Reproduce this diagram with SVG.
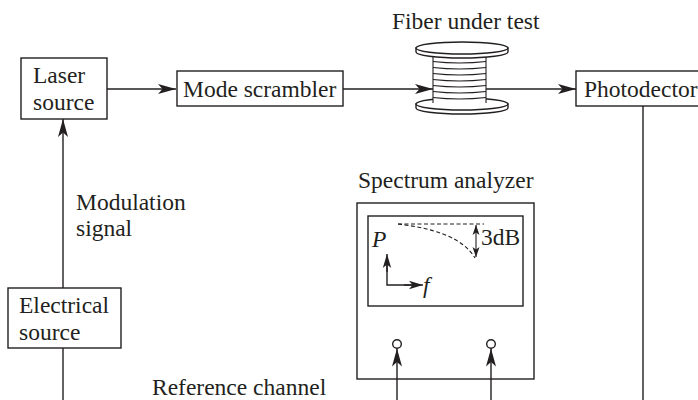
<svg xmlns="http://www.w3.org/2000/svg" width="698" height="400" viewBox="0 0 698 400">
  <style>
    .box { fill: #ffffff; stroke: #231f20; stroke-width: 1.4; }
    .ln { fill: none; stroke: #231f20; stroke-width: 1.4; }
    .thin { fill: none; stroke: #231f20; stroke-width: 1.1; }
    .dash { fill: none; stroke: #231f20; stroke-width: 1.1; stroke-dasharray: 4 2.5; }
    .t { font-family: "Liberation Serif", "Times New Roman", serif; font-size: 23.5px; fill: #231f20; }
    .i { font-style: italic; }
  </style>
  <defs>
    <marker id="ah" viewBox="-19 -6 20 12" refX="0" refY="0" markerWidth="20" markerHeight="12" markerUnits="userSpaceOnUse" orient="auto">
      <path d="M0,0 L-18,-5 L-13.5,0 L-18,5 Z" fill="#231f20"/>
    </marker>
    <marker id="ahm" viewBox="-15 -5 16 10" refX="0" refY="0" markerWidth="16" markerHeight="10" markerUnits="userSpaceOnUse" orient="auto">
      <path d="M0,0 L-14,-4.2 L-10.5,0 L-14,4.2 Z" fill="#231f20"/>
    </marker>
    <marker id="ahs" viewBox="-11 -4 12 8" refX="0" refY="0" markerWidth="12" markerHeight="8" markerUnits="userSpaceOnUse" orient="auto-start-reverse">
      <path d="M0,0 L-10,-3.5 L-7.5,0 L-10,3.5 Z" fill="#231f20"/>
    </marker>
  </defs>

  <g id="laser">
    <rect class="box" x="21" y="58" width="86" height="61"/>
    <text class="t" x="33" y="83">Laser</text>
    <text class="t" x="33" y="110">source</text>
  </g>

  <g id="scrambler">
    <rect class="box" x="177" y="71" width="166" height="35"/>
    <text class="t" x="183" y="97">Mode scrambler</text>
  </g>

  <g id="fiber">
    <text class="t" x="392" y="29">Fiber under test</text>
    <!-- lower flange -->
    <path class="box" d="M416,104 L416,108 A46,6 0 0 0 508,108 L508,104 Z"/>
    <ellipse class="box" cx="462" cy="104" rx="46" ry="6"/>
    <!-- core with windings -->
    <rect x="433" y="52" width="53" height="51" fill="#ffffff" stroke="none"/>
    <line class="thin" x1="433" y1="52" x2="433" y2="103"/>
    <line class="thin" x1="486" y1="52" x2="486" y2="103"/>
    <path class="thin" d="M433,61.5 Q459.5,64.5 486,61.5 M433,67.5 Q459.5,70.5 486,67.5 M433,73.5 Q459.5,76.5 486,73.5 M433,79.5 Q459.5,82.5 486,79.5 M433,85.5 Q459.5,88.5 486,85.5 M433,91.5 Q459.5,94.5 486,91.5 M433,97.5 Q459.5,100.5 486,97.5"/>
    <!-- upper flange -->
    <path class="box" d="M416,48 L416,52 A46,6 0 0 0 508,52 L508,48 Z"/>
    <ellipse class="box" cx="462" cy="48" rx="46" ry="6"/>
  </g>

  <g id="photodetector">
    <rect class="box" x="576" y="71" width="140" height="35"/>
    <text class="t" x="584" y="97">Photodector</text>
  </g>

  <g id="electrical">
    <rect class="box" x="8" y="288" width="113" height="60"/>
    <text class="t" x="19" y="313">Electrical</text>
    <text class="t" x="19" y="340">source</text>
  </g>

  <g id="modulation-label">
    <text class="t" x="76" y="210">Modulation</text>
    <text class="t" x="76" y="236">signal</text>
  </g>

  <g id="analyzer">
    <text class="t" x="358" y="188">Spectrum analyzer</text>
    <rect class="box" x="357" y="203" width="177" height="176"/>
    <rect class="box" x="368" y="216" width="155" height="90"/>
    <line class="dash" x1="398" y1="224" x2="484" y2="224"/>
    <path class="dash" d="M398,224 C430,228 462,236 475,258"/>
    <line class="thin" x1="476" y1="225" x2="476" y2="257" marker-start="url(#ahs)" marker-end="url(#ahs)"/>
    <text class="t" x="481" y="245">3dB</text>
    <text class="t i" x="372" y="247">P</text>
    <path class="ln" d="M387,258 L387,285 L419,285"/>
    <line class="ln" x1="387" y1="272" x2="387" y2="254" marker-end="url(#ahm)"/>
    <line class="ln" x1="404" y1="285" x2="423" y2="285" marker-end="url(#ahm)"/>
    <text class="t i" x="423" y="293">f</text>
    <circle class="box" cx="397" cy="344" r="4.3"/>
    <circle class="box" cx="491" cy="344" r="4.3"/>
  </g>

  <g id="reference-label">
    <text class="t" x="152" y="395">Reference channel</text>
  </g>

  <!-- connectors, drawn last so the inputs show over the analyzer panel -->
  <g id="connectors">
    <line class="ln" x1="107" y1="89" x2="176" y2="89" marker-end="url(#ah)"/>
    <line class="ln" x1="343" y1="89" x2="433" y2="89" marker-end="url(#ah)"/>
    <line class="ln" x1="486" y1="89" x2="576" y2="89" marker-end="url(#ah)"/>
    <line class="ln" x1="63" y1="288" x2="63" y2="119" marker-end="url(#ah)"/>
    <line class="ln" x1="63" y1="348" x2="63" y2="400"/>
    <line class="ln" x1="643" y1="106" x2="643" y2="400"/>
    <line class="ln" x1="397" y1="400" x2="397" y2="348.5" marker-end="url(#ah)"/>
    <line class="ln" x1="491" y1="400" x2="491" y2="348.5" marker-end="url(#ah)"/>
  </g>
</svg>
